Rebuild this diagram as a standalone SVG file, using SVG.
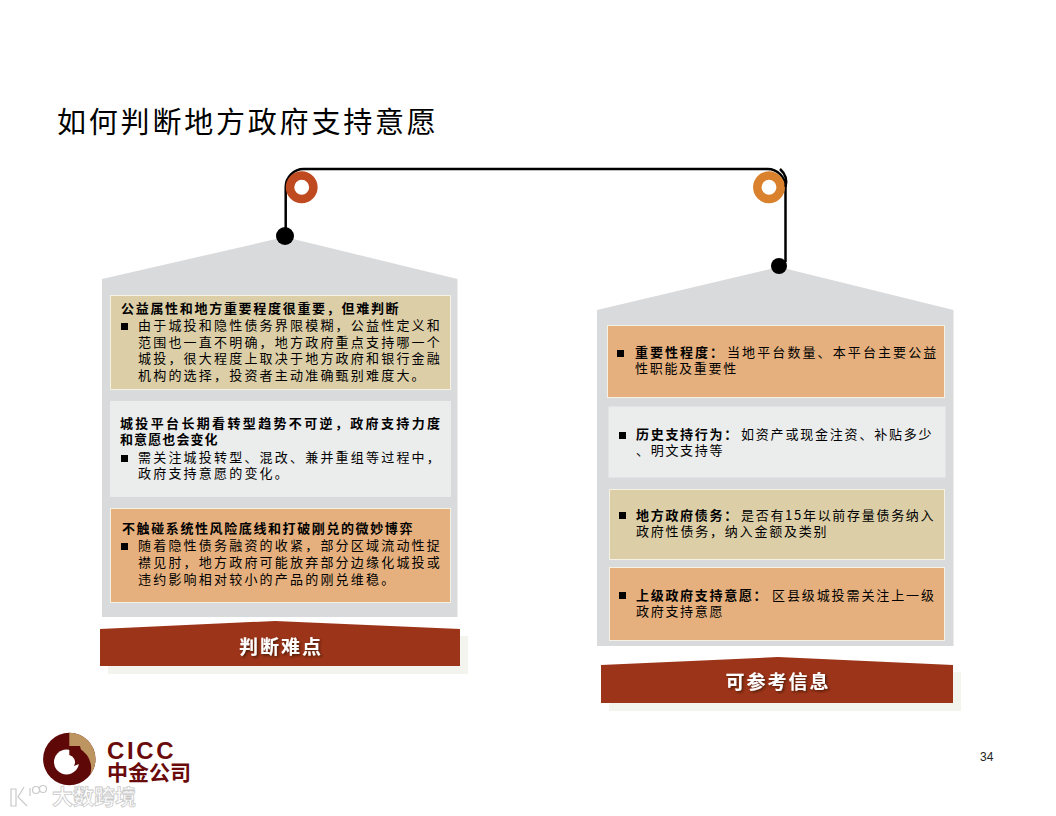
<svg xmlns="http://www.w3.org/2000/svg" width="1056" height="816" viewBox="0 0 1056 816">
<style>
text{font-family:"Noto Sans CJK SC","Liberation Sans",sans-serif;fill:#000}
.house{fill:#d9dadc}
.box{stroke:#f5f1e4;stroke-width:1}
.tan{fill:#dccfa8}.light{fill:#ebecec;stroke:#ebecec}.orange{fill:#e5b07e}
.b{font-size:13px;font-weight:700}
.r{font-size:13px;font-weight:400}
.banner{fill:#9c3419}
.shadow{fill:#f4f4ee}
.bt{font-size:19px;font-weight:700;fill:#fff;text-anchor:middle;letter-spacing:2px;filter:url(#ts)}
.conn{fill:none;stroke:#000;stroke-width:2.5}
.wm{fill:none;stroke:#c9c9c9;stroke-width:1.200}
</style>
<defs>
<filter id="ts" x="-20%" y="-40%" width="140%" height="180%"><feDropShadow dx="1.5" dy="1.5" stdDeviation="1" flood-color="#3a1206" flood-opacity=".8"/></filter>
</defs>
<rect width="1056" height="816" fill="#fff"/>
<text id="title" x="57" y="133" font-size="29" letter-spacing="2.8" font-weight="400">如何判断地方政府支持意愿</text>

<g id="left-panel">
<polygon class="house" points="102,279 285,237 457.5,279 457.5,617 102,617"/>
<g id="left-box-1">
<rect class="box tan" x="110.500" y="295.500" width="340" height="94"/>
<text class="b" x="121" y="313" letter-spacing="1.7">公益属性和地方重要程度很重要，但难判断</text>
<rect x="121" y="323" width="7" height="7"/>
<text class="r" x="138" y="330" letter-spacing="2.2">由于城投和隐性债务界限模糊，公益性定义和</text>
<text class="r" x="138" y="347" letter-spacing="2.2">范围也一直不明确，地方政府重点支持哪一个</text>
<text class="r" x="138" y="363" letter-spacing="2.2">城投，很大程度上取决于地方政府和银行金融</text>
<text class="r" x="138" y="380" letter-spacing="2.2">机构的选择，投资者主动准确甄别难度大。</text>
</g>
<g id="left-box-2">
<rect class="box light" x="110.500" y="401.500" width="340" height="95"/>
<text class="b" x="120" y="428" letter-spacing="2.35">城投平台长期看转型趋势不可逆，政府支持力度</text>
<text class="b" x="120" y="444" letter-spacing="1.100">和意愿也会变化</text>
<rect x="121" y="455" width="7" height="7"/>
<text class="r" x="138" y="462" letter-spacing="2.2">需关注城投转型、混改、兼并重组等过程中，</text>
<text class="r" x="138" y="478" letter-spacing="2.2">政府支持意愿的变化。</text>
</g>
<g id="left-box-3">
<rect class="box orange" x="110.500" y="508.500" width="340" height="94"/>
<text class="b" x="122" y="533" letter-spacing="1.6">不触碰系统性风险底线和打破刚兑的微妙博弈</text>
<rect x="121" y="543" width="7" height="7"/>
<text class="r" x="138" y="550" letter-spacing="2.2">随着隐性债务融资的收紧，部分区域流动性捉</text>
<text class="r" x="138" y="567" letter-spacing="2.2">襟见肘，地方政府可能放弃部分边缘化城投或</text>
<text class="r" x="138" y="584" letter-spacing="2.2">违约影响相对较小的产品的刚兑维稳。</text>
</g>
<g id="left-banner">
<rect class="shadow" x="108" y="636" width="360" height="38"/>
<path class="banner" d="M100,629 L275,621 L460,629 V666 H100Z"/>
<text class="bt" x="281" y="654">判断难点</text>
</g>
</g>

<g id="right-panel">
<polygon class="house" points="597,310 779,267 953.500,310 953.500,646 597,646"/>
<g id="right-box-1">
<rect class="box orange" x="607.500" y="325.500" width="337" height="72"/>
<rect x="617" y="350" width="7" height="7"/>
<text class="b" x="635" y="357" letter-spacing="2">重要性程度：</text>
<text class="r" x="727" y="357" letter-spacing="2.1">当地平台数量、本平台主要公益</text>
<text class="r" x="635" y="373" letter-spacing="1.700">性职能及重要性</text>
</g>
<g id="right-box-2">
<rect class="box light" x="609" y="407" width="336" height="70"/>
<rect x="619" y="432" width="7" height="7"/>
<text class="b" x="636" y="439" letter-spacing="1.700">历史支持行为：</text>
<text class="r" x="741" y="439" letter-spacing="1.800">如资产或现金注资、补贴多少</text>
<text class="r" x="636" y="455" letter-spacing="1.700">、明文支持等</text>
</g>
<g id="right-box-3">
<rect class="box tan" x="609.500" y="489.500" width="335" height="70"/>
<rect x="619" y="512" width="7" height="7"/>
<text class="b" x="636" y="520" letter-spacing="1.700">地方政府债务：</text>
<text class="r" x="741" y="520" letter-spacing="1.700">是否有15年以前存量债务纳入</text>
<text class="r" x="636" y="536" letter-spacing="1.800">政府性债务，纳入金额及类别</text>
</g>
<g id="right-box-4">
<rect class="box orange" x="609.500" y="567.500" width="335" height="73"/>
<rect x="619" y="592" width="7" height="7"/>
<text class="b" x="636" y="600" letter-spacing="1.700">上级政府支持意愿：</text>
<text class="r" x="772" y="600" letter-spacing="1.900">区县级城投需关注上一级</text>
<text class="r" x="636" y="616" letter-spacing="1.700">政府支持意愿</text>
</g>
<g id="right-banner">
<rect class="shadow" x="609" y="672" width="352" height="39"/>
<path class="banner" d="M601,665 L778,657 L953,665 V703 H601Z"/>
<text class="bt" x="778" y="689">可参考信息</text>
</g>
</g>

<g id="connectors">
<path class="conn" d="M285.700,236 V187 A18,18 0 0 1 303.700,169 H767.500 A18,18 0 0 1 785.500,187 V262"/>
<circle cx="285" cy="236" r="9"/>
<circle cx="779" cy="266" r="8"/>
</g>
<g id="ring-left"><circle cx="301.700" cy="187.300" r="11.700" fill="none" stroke="#c04a20" stroke-width="8.500"/></g>
<g id="ring-right"><circle cx="769" cy="187.300" r="11.700" fill="none" stroke="#d9812c" stroke-width="8.500"/></g>
<path d="M780,169 A18,18 0 0 1 785.500,187" fill="none" stroke="#000" stroke-width="2.500"/>

<g id="logo">
<circle cx="69.300" cy="759" r="26.200" fill="#5f0808"/>
<path d="M69.300,732.800 A26.200,26.200 0 0 1 90,775 A22,22 0 0 0 69.300,746Z" fill="#bd9560"/>
<circle cx="66.500" cy="762" r="12.500" fill="#fff"/>
<path d="M69.300,746 V755 A7.500,7.500 0 0 1 74,766 L84,762 L80,746Z" fill="#5f0808"/>
<text x="107" y="758.500" font-size="24" font-weight="700" letter-spacing="2.6" style="font-family:'Liberation Sans',sans-serif;fill:#6b0a0a">CICC</text>
<text x="107" y="780" font-size="21" font-weight="700" style="fill:#6b0a0a">中金公司</text>
</g>
<g id="watermark">
<text x="52" y="804" font-size="21" font-weight="700" style="fill:#fff;stroke:#c9c9c9;stroke-width:.8">大数跨境</text>
<path class="wm" d="M11,789 H16 V806 H11Z M24,787 L18,797 L27,806"/>
<path class="wm" d="M30,788 V796"/>
<circle class="wm" cx="36" cy="790" r="3.500"/>
<circle class="wm" cx="43" cy="789" r="3.500"/>
</g>
<text id="page" x="980" y="761" style="font-family:'Liberation Sans',sans-serif;fill:#222" font-size="12">34</text>
</svg>
